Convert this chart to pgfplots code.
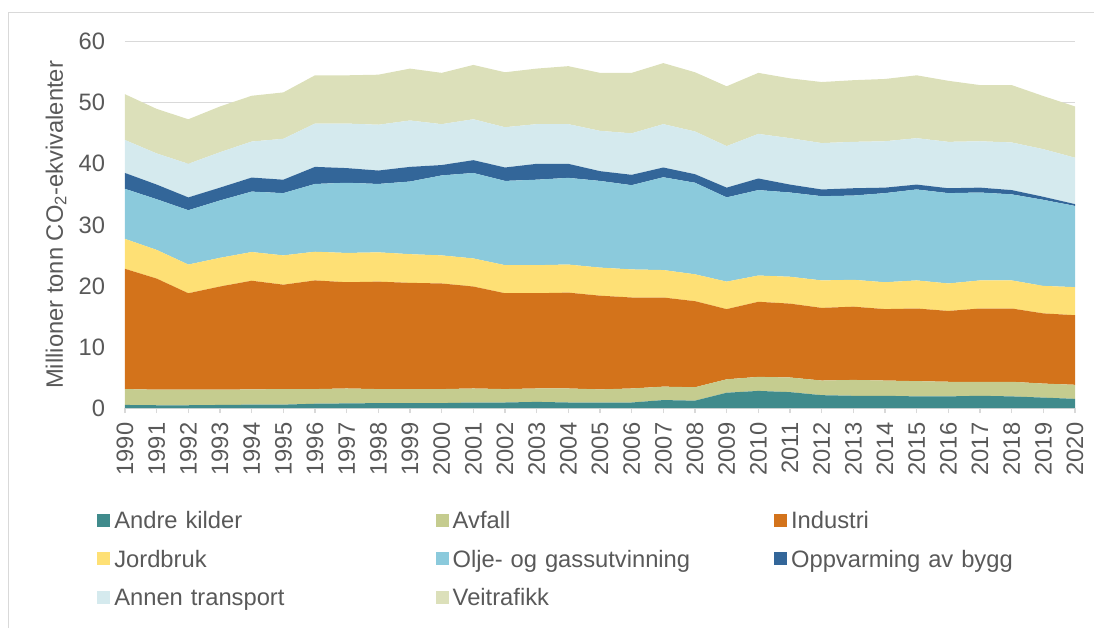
\documentclass[border=0pt]{standalone}
\usepackage{pgfplots}
\pgfplotsset{compat=1.18}
\usepackage{pgfplotstable}
\usepackage{fontspec}
\setmainfont{Liberation Sans}

\definecolor{cAndre}{RGB}{64,139,140}
\definecolor{cAvfall}{RGB}{197,204,143}
\definecolor{cIndustri}{RGB}{211,115,27}
\definecolor{cJord}{RGB}{254,224,117}
\definecolor{cOlje}{RGB}{139,202,220}
\definecolor{cOppv}{RGB}{51,102,153}
\definecolor{cAnnen}{RGB}{213,234,238}
\definecolor{cVei}{RGB}{220,224,186}
\definecolor{cText}{RGB}{89,89,89}
\definecolor{cGrid}{RGB}{217,217,217}

\pgfplotstableread{
year A    Av   I     J   O    Op  An  V
1990 0.5  2.6  19.7  4.9 8.2  2.6 5.4 7.5
1991 0.45 2.55 18.2  4.7 8.3  2.4 5.1 7.3
1992 0.45 2.55 15.8  4.7 8.9  2.1 5.5 7.3
1993 0.5  2.5  16.9  4.7 9.4  2.1 5.8 7.5
1994 0.55 2.5  17.8  4.7 9.9  2.3 5.9 7.5
1995 0.55 2.55 17.1  4.8 10.2 2.2 6.7 7.6
1996 0.7  2.4  17.8  4.7 11.1 2.8 7.1 7.9
1997 0.75 2.45 17.4  4.8 11.5 2.4 7.3 7.9
1998 0.8  2.3  17.6  4.8 11.2 2.2 7.5 8.2
1999 0.8  2.3  17.4  4.7 11.9 2.4 7.6 8.5
2000 0.8  2.3  17.3  4.6 13.1 1.7 6.7 8.4
2001 0.9  2.3  16.7  4.6 14.0 2.1 6.7 8.9
2002 0.9  2.2  15.7  4.6 13.8 2.2 6.6 9.0
2003 1.0  2.2  15.6  4.6 14.0 2.6 6.5 9.1
2004 0.9  2.3  15.7  4.6 14.2 2.3 6.5 9.5
2005 0.9  2.15 15.35 4.6 14.2 1.6 6.6 9.5
2006 0.9  2.3  14.9  4.6 13.8 1.7 6.8 9.9
2007 1.3  2.2  14.6  4.5 15.2 1.6 7.1 10.0
2008 1.2  2.2  14.1  4.4 15.0 1.4 7.0 9.7
2009 2.5  2.2  11.5  4.5 13.8 1.6 6.8 9.8
2010 2.8  2.3  12.3  4.3 14.0 1.9 7.3 10.0
2011 2.6  2.4  12.1  4.4 13.8 1.3 7.6 9.8
2012 2.1  2.4  11.9  4.5 13.8 1.1 7.6 10.0
2013 2.0  2.6  12.0  4.4 13.8 1.2 7.6 10.1
2014 2.0  2.5  11.7  4.4 14.6 0.9 7.6 10.2
2015 1.9  2.5  11.9  4.6 14.9 0.8 7.6 10.3
2016 1.9  2.4  11.6  4.5 14.8 0.8 7.6 10.0
2017 2.0  2.3  12.0  4.6 14.4 0.8 7.6 9.2
2018 1.9  2.4  12.0  4.6 14.1 0.7 7.8 9.4
2019 1.7  2.3  11.5  4.5 14.1 0.5 7.8 8.7
2020 1.5  2.3  11.4  4.6 13.3 0.3 7.6 8.4
}\datatable

\begin{document}
\begin{tikzpicture}
\begin{axis}[
  name=ax,
  at={(0,0)}, anchor=south west,
  scale only axis,
  width=712.5pt, height=274.7pt,
  xmin=1990, xmax=2020,
  ymin=0, ymax=60,
  stack plots=y,
  axis x line*=bottom,
  axis y line*=left,
  x axis line style={cGrid, line width=0.8pt},
  y axis line style={draw=none},
  xtick={1990,1991,...,2020},
  ytick={0,10,...,60},
  ymajorgrids,
  grid style={cGrid, line width=0.8pt},
  xtick style={cGrid, line width=0.8pt},
  tick align=outside,
  major tick length=3.75pt,
  ytick style={draw=none},
  font=\fontsize{17.8}{21}\selectfont,
  /pgf/number format/assume math mode=true,
  /pgf/number format/1000 sep={},
  tick label style={text=cText},
  x tick label style={rotate=90, anchor=east, inner sep=2pt},
  y tick label style={anchor=east, inner sep=2pt},
  yticklabel shift=9pt,
  xticklabel shift=5pt,
  ylabel={Millioner tonn CO\textsubscript{2}-ekvivalenter},
  ylabel style={at={(axis description cs:-0.0726,0.5)}, anchor=center, text=cText},
  legend columns=3,
  legend cell align=left,
  legend style={at={(axis description cs:0,0)}, anchor=north west, xshift=-21pt, yshift=-77.5pt,
    draw=none, fill=none, text=cText, font=\fontsize{17.8}{21}\selectfont,
    inner sep=0pt, row sep=11.8pt,
    nodes={text width=238pt, align=left, inner xsep=3pt, inner ysep=0pt, text height=13pt, text depth=4pt}},
  legend image code/.code={\fill[#1] (0pt,-3pt) rectangle (9.8pt,6.8pt);},
]
\addplot[fill=cAndre, draw=none] table[x=year, y=A] {\datatable} \closedcycle;
\addlegendentry{Andre kilder}
\addplot[fill=cAvfall, draw=none] table[x=year, y=Av] {\datatable} \closedcycle;
\addlegendentry{Avfall}
\addplot[fill=cIndustri, draw=none] table[x=year, y=I] {\datatable} \closedcycle;
\addlegendentry{Industri}
\addplot[fill=cJord, draw=none] table[x=year, y=J] {\datatable} \closedcycle;
\addlegendentry{Jordbruk}
\addplot[fill=cOlje, draw=none] table[x=year, y=O] {\datatable} \closedcycle;
\addlegendentry{Olje- og gassutvinning}
\addplot[fill=cOppv, draw=none] table[x=year, y=Op] {\datatable} \closedcycle;
\addlegendentry{Oppvarming av bygg}
\addplot[fill=cAnnen, draw=none] table[x=year, y=An] {\datatable} \closedcycle;
\addlegendentry{Annen transport}
\addplot[fill=cVei, draw=none] table[x=year, y=V] {\datatable} \closedcycle;
\addlegendentry{Veitrafikk}
\end{axis}
\pgfresetboundingbox
\useasboundingbox ([shift={(-93.75pt,-165pt)}]ax.south west) rectangle ([shift={(726.75pt,306pt)}]ax.south west);
\draw[cGrid, line width=0.8pt] ([shift={(-87.4pt,-165pt)}]ax.south west) -- ([shift={(-87.4pt,296.6pt)}]ax.south west) -- ([shift={(726.75pt,296.6pt)}]ax.south west);
\end{tikzpicture}
\end{document}
